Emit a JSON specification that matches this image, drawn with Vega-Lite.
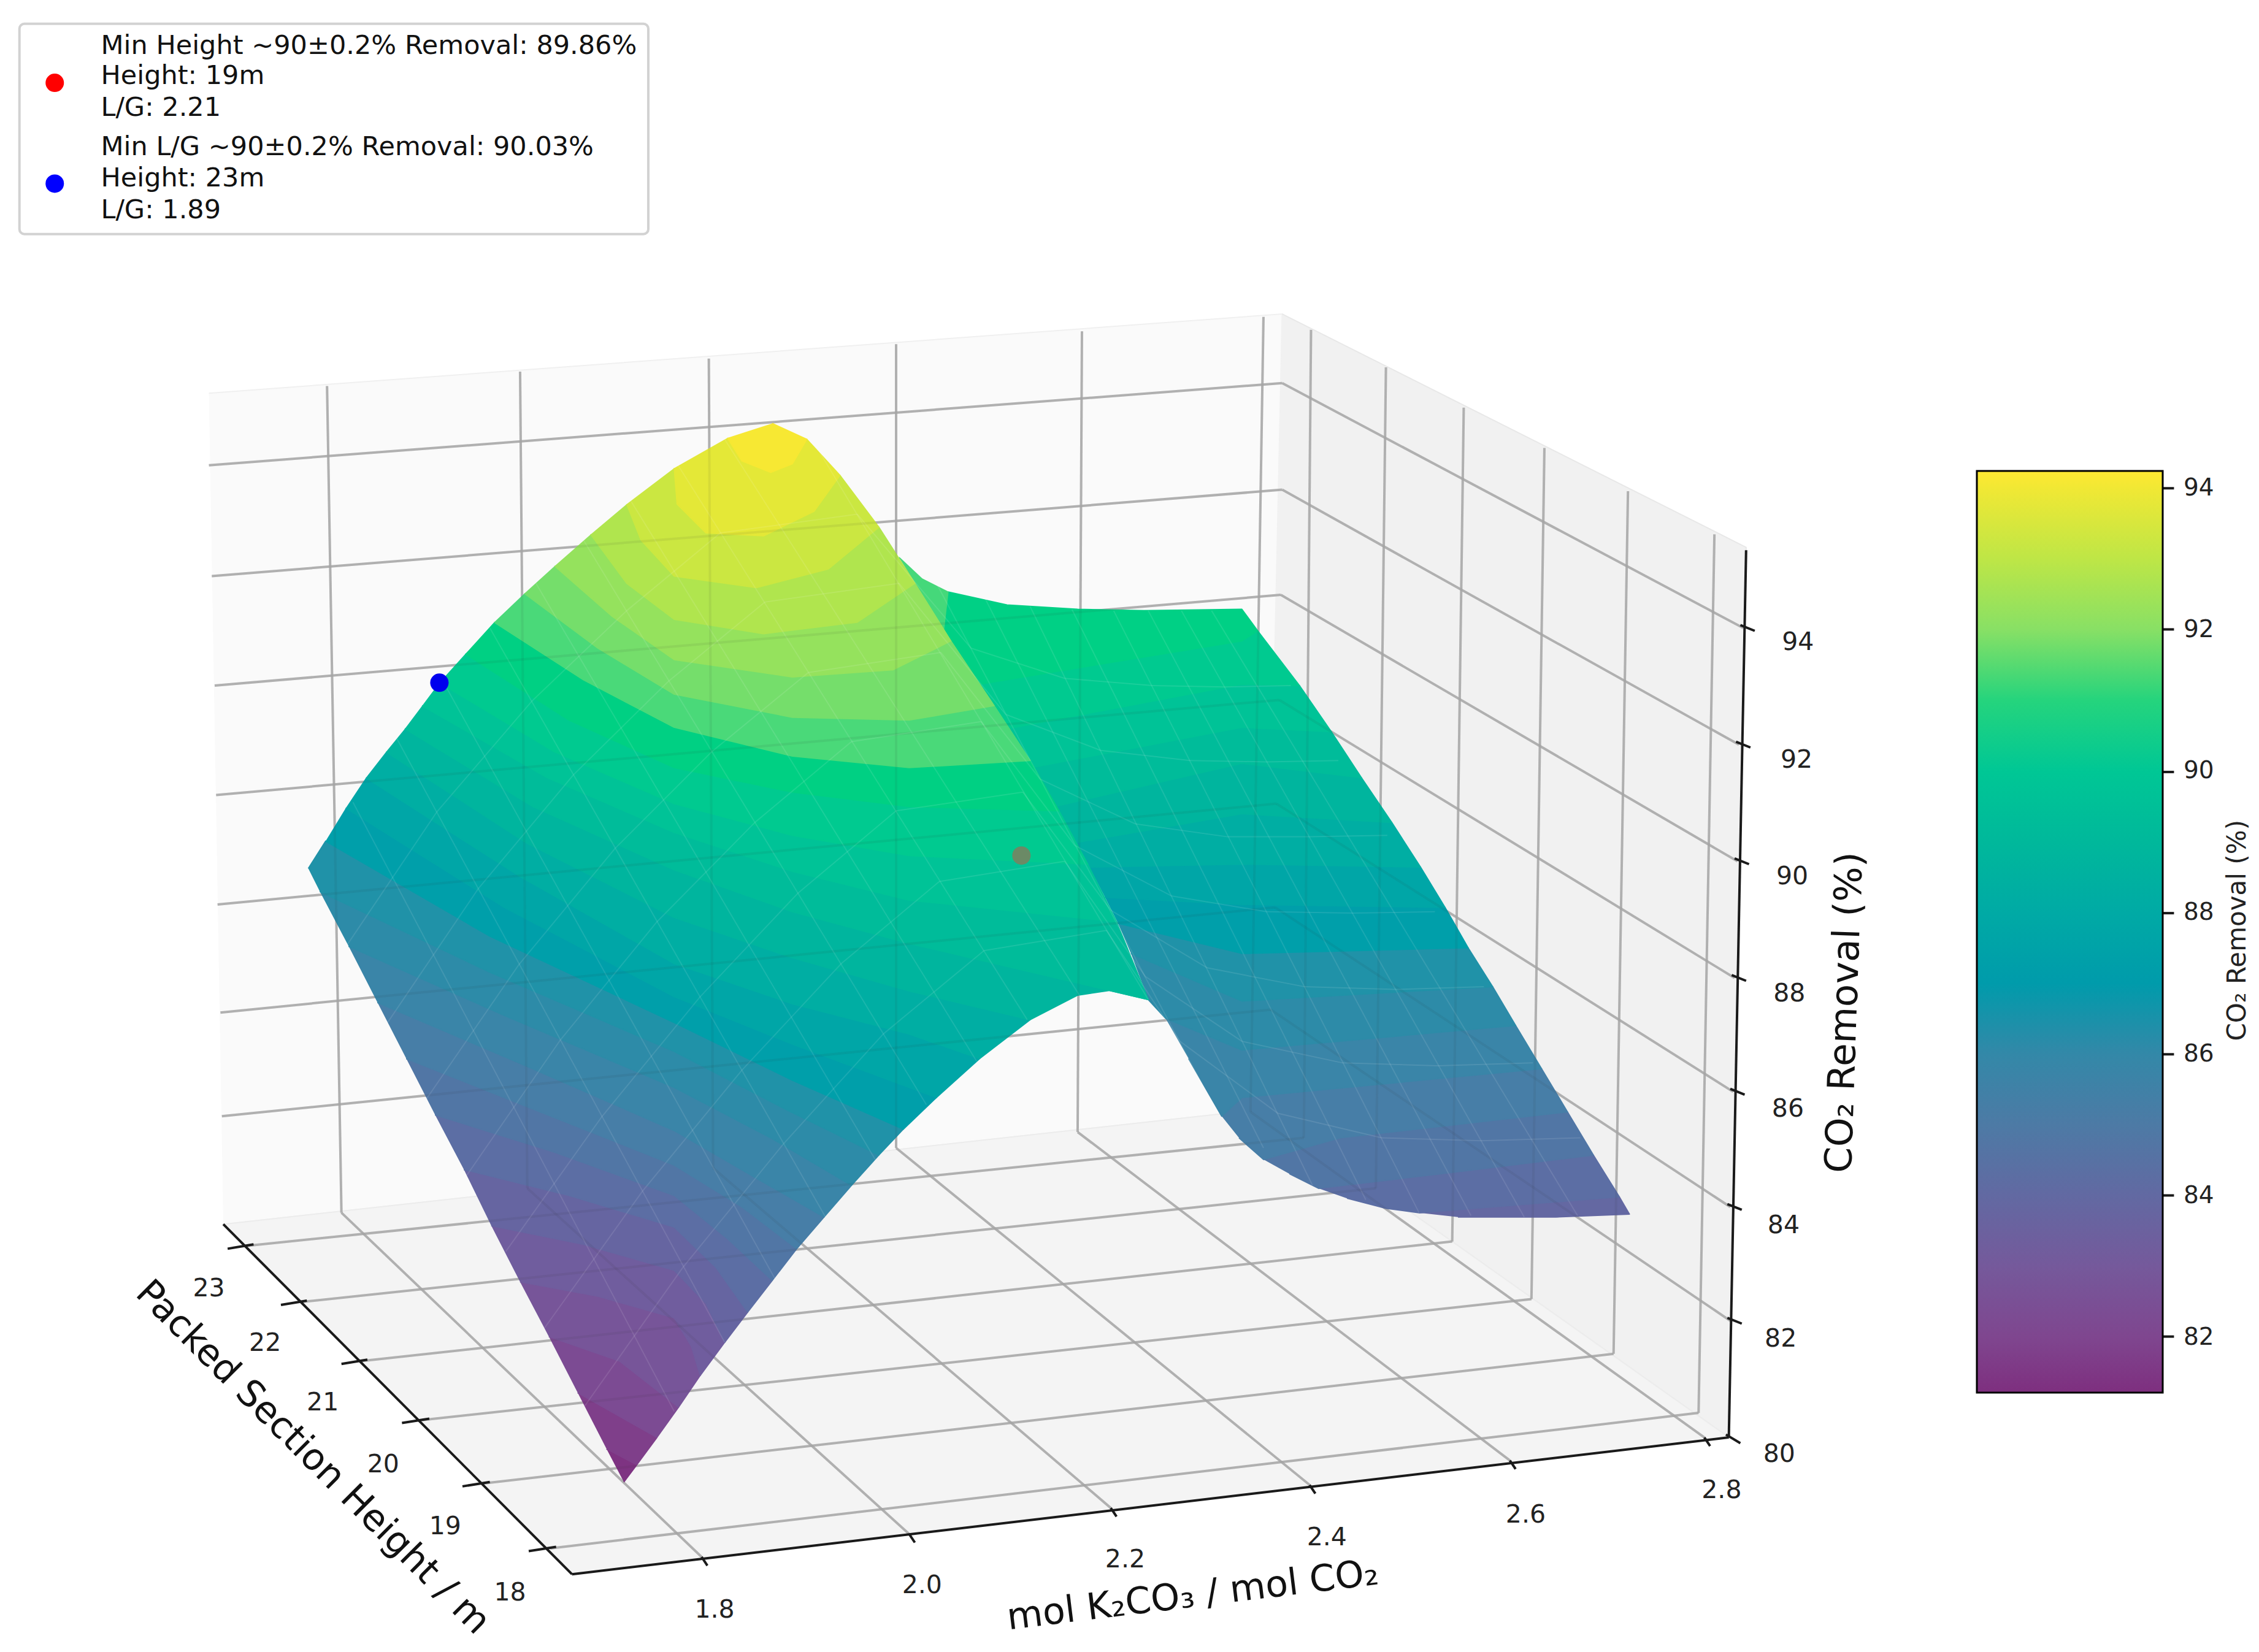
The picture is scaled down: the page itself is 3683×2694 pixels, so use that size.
{"$schema":"https://vega.github.io/schema/vega-lite/v6.json",
"width":3683,"height":2694,"padding":0,
"autosize":{"type":"fit","contains":"padding"},
"background":"white",
"config":{"view":{"stroke":null}},
"resolve":{"scale":{"fill":"independent"},"legend":{"fill":"independent"}},
"datasets":{
"grid":[
{"sx":227,"sy":268,"ex":237,"ey":842},{"sx":361,"sy":258,"ex":366,"ey":825},{"sx":492,"sy":249,"ex":495,"ey":811},{"sx":622,"sy":239,"ex":622,"ey":797},{"sx":751,"sy":230,"ex":748,"ey":786},{"sx":877,"sy":220,"ex":868,"ey":772},
{"sx":145,"sy":323,"ex":890,"ey":266},{"sx":147,"sy":400,"ex":890,"ey":340},{"sx":149,"sy":476,"ex":889,"ey":413},{"sx":150,"sy":552,"ex":888,"ey":486},{"sx":151,"sy":628,"ex":886,"ey":558},{"sx":153,"sy":703,"ex":885,"ey":630},{"sx":154,"sy":775,"ex":882,"ey":701},
{"sx":910,"sy":229,"ex":905,"ey":790},{"sx":962,"sy":255,"ex":955,"ey":825},{"sx":1016,"sy":283,"ex":1008,"ey":862},{"sx":1072,"sy":311,"ex":1063,"ey":902},{"sx":1130,"sy":341,"ex":1120,"ey":940},{"sx":1190,"sy":371,"ex":1179,"ey":981},
{"sx":890,"sy":266,"ex":1210,"ey":436},{"sx":890,"sy":340,"ex":1207,"ey":517},{"sx":889,"sy":413,"ex":1206,"ey":598},{"sx":888,"sy":486,"ex":1204,"ey":679},{"sx":886,"sy":558,"ex":1203,"ey":758},{"sx":885,"sy":630,"ex":1201,"ey":838},{"sx":882,"sy":701,"ex":1201,"ey":917},
{"sx":237,"sy":842,"ex":487,"ey":1081},{"sx":366,"sy":825,"ex":631,"ey":1065},{"sx":495,"sy":811,"ex":771,"ey":1047},{"sx":622,"sy":797,"ex":909,"ey":1031},{"sx":748,"sy":786,"ex":1048,"ey":1014},{"sx":868,"sy":772,"ex":1183,"ey":998},
{"sx":171,"sy":865,"ex":905,"ey":790},{"sx":209,"sy":904,"ex":955,"ey":825},{"sx":251,"sy":945,"ex":1008,"ey":862},{"sx":293,"sy":986,"ex":1063,"ey":902},{"sx":335,"sy":1030,"ex":1120,"ey":940},{"sx":382,"sy":1075,"ex":1179,"ey":981}],
"axes":[
{"sx":155,"sy":850,"ex":397,"ey":1093},{"sx":397,"sy":1093,"ex":1200,"ey":998},{"sx":1212,"sy":382,"ex":1200,"ey":998},
{"sx":158,"sy":867,"ex":176,"ey":864},{"sx":195,"sy":906,"ex":213,"ey":903},{"sx":237,"sy":947,"ex":255,"ey":944},{"sx":279,"sy":988,"ex":298,"ey":985},{"sx":321,"sy":1032,"ex":340,"ey":1029},{"sx":367,"sy":1077,"ex":386,"ey":1074},
{"sx":487,"sy":1081,"ex":491,"ey":1087},{"sx":631,"sy":1065,"ex":635,"ey":1071},{"sx":771,"sy":1047,"ex":775,"ey":1053},{"sx":909,"sy":1031,"ex":913,"ey":1037},{"sx":1048,"sy":1014,"ex":1052,"ey":1020},{"sx":1183,"sy":998,"ex":1187,"ey":1004},
{"sx":1198,"sy":996,"ex":1208,"ey":1002},{"sx":1199,"sy":915,"ex":1209,"ey":919},{"sx":1199,"sy":836,"ex":1209,"ey":840},{"sx":1201,"sy":756,"ex":1211,"ey":760},{"sx":1202,"sy":677,"ex":1212,"ey":681},{"sx":1204,"sy":596,"ex":1214,"ey":600},{"sx":1205,"sy":515,"ex":1215,"ey":519},{"sx":1208,"sy":434,"ex":1218,"ey":438},
{"sx":1501,"sy":339,"ex":1509,"ey":339},{"sx":1501,"sy":437,"ex":1509,"ey":437},{"sx":1501,"sy":536,"ex":1509,"ey":536},{"sx":1501,"sy":634,"ex":1509,"ey":634},{"sx":1501,"sy":732,"ex":1509,"ey":732},{"sx":1501,"sy":830,"ex":1509,"ey":830},{"sx":1501,"sy":928,"ex":1509,"ey":928}],
"mesh":[
{"sx":503,"sy":932,"ex":275,"ey":512},{"sx":573,"sy":845,"ex":340,"ey":436},{"sx":643,"sy":767,"ex":405,"ey":375},{"sx":713,"sy":708,"ex":470,"ey":322},{"sx":797,"sy":694,"ex":566,"ey":309},{"sx":843,"sy":769,"ex":650,"ey":405},{"sx":911,"sy":823,"ex":715,"ey":421},{"sx":985,"sy":842,"ex":773,"ey":424},{"sx":1058,"sy":845,"ex":820,"ey":424},
{"sx":468,"sy":980,"ex":245,"ey":557},{"sx":538,"sy":888,"ex":308,"ey":474},{"sx":608,"sy":806,"ex":372,"ey":405},{"sx":678,"sy":737,"ex":438,"ey":348},{"sx":755,"sy":700,"ex":503,"ey":305},{"sx":877,"sy":797,"ex":683,"ey":414},{"sx":948,"sy":833,"ex":744,"ey":423},{"sx":1021,"sy":844,"ex":797,"ey":424},{"sx":1095,"sy":844,"ex":841,"ey":424},
{"sx":406,"sy":976,"ex":474,"ey":880},{"sx":474,"sy":880,"ex":544,"ey":794},{"sx":544,"sy":794,"ex":613,"ey":718},{"sx":613,"sy":718,"ex":683,"ey":660},{"sx":683,"sy":660,"ex":768,"ey":646},{"sx":768,"sy":646,"ex":819,"ey":723},{"sx":819,"sy":723,"ex":887,"ey":773},{"sx":887,"sy":773,"ex":959,"ey":790},{"sx":959,"sy":790,"ex":1028,"ey":792},{"sx":1028,"sy":792,"ex":1097,"ey":790},
{"sx":378,"sy":922,"ex":446,"ey":827},{"sx":446,"sy":827,"ex":515,"ey":743},{"sx":515,"sy":743,"ex":584,"ey":669},{"sx":584,"sy":669,"ex":652,"ey":612},{"sx":652,"sy":612,"ex":739,"ey":598},{"sx":739,"sy":598,"ex":795,"ey":678},{"sx":795,"sy":678,"ex":862,"ey":723},{"sx":862,"sy":723,"ex":932,"ey":738},{"sx":932,"sy":738,"ex":998,"ey":740},{"sx":998,"sy":740,"ex":1064,"ey":738},
{"sx":351,"sy":869,"ex":418,"ey":775},{"sx":418,"sy":775,"ex":486,"ey":692},{"sx":486,"sy":692,"ex":554,"ey":620},{"sx":554,"sy":620,"ex":622,"ey":563},{"sx":622,"sy":563,"ex":710,"ey":550},{"sx":710,"sy":550,"ex":771,"ey":632},{"sx":771,"sy":632,"ex":838,"ey":672},{"sx":838,"sy":672,"ex":905,"ey":685},{"sx":905,"sy":685,"ex":969,"ey":687},{"sx":969,"sy":687,"ex":1030,"ey":685},
{"sx":324,"sy":816,"ex":389,"ey":722},{"sx":389,"sy":722,"ex":456,"ey":640},{"sx":456,"sy":640,"ex":524,"ey":571},{"sx":524,"sy":571,"ex":591,"ey":515},{"sx":591,"sy":515,"ex":681,"ey":501},{"sx":681,"sy":501,"ex":746,"ey":587},{"sx":746,"sy":587,"ex":813,"ey":622},{"sx":813,"sy":622,"ex":879,"ey":633},{"sx":879,"sy":633,"ex":939,"ey":634},{"sx":939,"sy":634,"ex":996,"ey":633},
{"sx":296,"sy":763,"ex":360,"ey":670},{"sx":360,"sy":670,"ex":427,"ey":589},{"sx":427,"sy":589,"ex":494,"ey":522},{"sx":494,"sy":522,"ex":561,"ey":467},{"sx":561,"sy":467,"ex":653,"ey":453},{"sx":653,"sy":453,"ex":722,"ey":541},{"sx":722,"sy":541,"ex":788,"ey":572},{"sx":788,"sy":572,"ex":852,"ey":581},{"sx":852,"sy":581,"ex":909,"ey":581},{"sx":909,"sy":581,"ex":963,"ey":580},
{"sx":269,"sy":710,"ex":332,"ey":617},{"sx":332,"sy":617,"ex":398,"ey":538},{"sx":398,"sy":538,"ex":464,"ey":473},{"sx":464,"sy":473,"ex":531,"ey":418},{"sx":531,"sy":418,"ex":624,"ey":405},{"sx":624,"sy":405,"ex":698,"ey":496},{"sx":698,"sy":496,"ex":764,"ey":521},{"sx":764,"sy":521,"ex":826,"ey":528},{"sx":826,"sy":528,"ex":879,"ey":529},{"sx":879,"sy":529,"ex":929,"ey":528},
{"sx":241,"sy":656,"ex":303,"ey":564},{"sx":303,"sy":564,"ex":369,"ey":487},{"sx":369,"sy":487,"ex":435,"ey":424},{"sx":435,"sy":424,"ex":500,"ey":370},{"sx":500,"sy":370,"ex":595,"ey":357},{"sx":595,"sy":357,"ex":674,"ey":450},{"sx":674,"sy":450,"ex":739,"ey":471},{"sx":739,"sy":471,"ex":800,"ey":476},{"sx":800,"sy":476,"ex":850,"ey":477},{"sx":850,"sy":477,"ex":896,"ey":476}],
"surface":[
{"p":"b01","i":0,"z":83.9,"sx":985,"sy":842},{"p":"b01","i":1,"z":83.9,"sx":1124,"sy":831},{"p":"b01","i":2,"z":83.9,"sx":1131,"sy":843},{"p":"b01","i":3,"z":83.9,"sx":1080,"sy":845},{"p":"b01","i":4,"z":83.9,"sx":1012,"sy":845},
{"p":"b02","i":0,"z":84.25,"sx":915,"sy":825},{"p":"b02","i":1,"z":84.25,"sx":1000,"sy":815},{"p":"b02","i":2,"z":84.25,"sx":1106,"sy":802},{"p":"b02","i":3,"z":84.25,"sx":1124,"sy":831},{"p":"b02","i":4,"z":84.25,"sx":985,"sy":842},{"p":"b02","i":5,"z":84.25,"sx":962,"sy":839},{"p":"b02","i":6,"z":84.25,"sx":935,"sy":832},
{"p":"b03","i":0,"z":84.75,"sx":877,"sy":805},{"p":"b03","i":1,"z":84.75,"sx":930,"sy":790},{"p":"b03","i":2,"z":84.75,"sx":1088,"sy":772},{"p":"b03","i":3,"z":84.75,"sx":1106,"sy":802},{"p":"b03","i":4,"z":84.75,"sx":1000,"sy":815},{"p":"b03","i":5,"z":84.75,"sx":915,"sy":825},{"p":"b03","i":6,"z":84.75,"sx":895,"sy":815},
{"p":"b04","i":0,"z":85.25,"sx":848,"sy":775},{"p":"b04","i":1,"z":85.25,"sx":862,"sy":762},{"p":"b04","i":2,"z":85.25,"sx":1070,"sy":742},{"p":"b04","i":3,"z":85.25,"sx":1088,"sy":772},{"p":"b04","i":4,"z":85.25,"sx":930,"sy":790},{"p":"b04","i":5,"z":85.25,"sx":877,"sy":805},{"p":"b04","i":6,"z":85.25,"sx":860,"sy":790},
{"p":"b05","i":0,"z":85.75,"sx":809,"sy":707},{"p":"b05","i":1,"z":85.75,"sx":862,"sy":729},{"p":"b05","i":2,"z":85.75,"sx":1052,"sy":712},{"p":"b05","i":3,"z":85.75,"sx":1070,"sy":742},{"p":"b05","i":4,"z":85.75,"sx":862,"sy":762},{"p":"b05","i":5,"z":85.75,"sx":848,"sy":775},{"p":"b05","i":6,"z":85.75,"sx":825,"sy":735},
{"p":"b06","i":0,"z":86.25,"sx":785,"sy":662},{"p":"b06","i":1,"z":86.25,"sx":862,"sy":695},{"p":"b06","i":2,"z":86.25,"sx":1036,"sy":685},{"p":"b06","i":3,"z":86.25,"sx":1052,"sy":712},{"p":"b06","i":4,"z":86.25,"sx":862,"sy":729},{"p":"b06","i":5,"z":86.25,"sx":809,"sy":707},{"p":"b06","i":6,"z":86.25,"sx":797,"sy":694},
{"p":"b07","i":0,"z":86.75,"sx":776,"sy":641},{"p":"b07","i":1,"z":86.75,"sx":862,"sy":662},{"p":"b07","i":2,"z":86.75,"sx":1019,"sy":658},{"p":"b07","i":3,"z":86.75,"sx":1036,"sy":685},{"p":"b07","i":4,"z":86.75,"sx":862,"sy":695},{"p":"b07","i":5,"z":86.75,"sx":785,"sy":662},
{"p":"b08","i":0,"z":87.25,"sx":767,"sy":623},{"p":"b08","i":1,"z":87.25,"sx":862,"sy":628},{"p":"b08","i":2,"z":87.25,"sx":1003,"sy":630},{"p":"b08","i":3,"z":87.25,"sx":1019,"sy":658},{"p":"b08","i":4,"z":87.25,"sx":862,"sy":662},{"p":"b08","i":5,"z":87.25,"sx":776,"sy":641},
{"p":"b09","i":0,"z":87.75,"sx":756,"sy":602},{"p":"b09","i":1,"z":87.75,"sx":862,"sy":600},{"p":"b09","i":2,"z":87.75,"sx":986,"sy":602},{"p":"b09","i":3,"z":87.75,"sx":1003,"sy":630},{"p":"b09","i":4,"z":87.75,"sx":862,"sy":628},{"p":"b09","i":5,"z":87.75,"sx":767,"sy":623},
{"p":"b10","i":0,"z":88.25,"sx":747,"sy":585},{"p":"b10","i":1,"z":88.25,"sx":862,"sy":565},{"p":"b10","i":2,"z":88.25,"sx":966,"sy":571},{"p":"b10","i":3,"z":88.25,"sx":986,"sy":602},{"p":"b10","i":4,"z":88.25,"sx":862,"sy":600},{"p":"b10","i":5,"z":88.25,"sx":756,"sy":602},
{"p":"b11","i":0,"z":88.75,"sx":732,"sy":560},{"p":"b11","i":1,"z":88.75,"sx":862,"sy":530},{"p":"b11","i":2,"z":88.75,"sx":945,"sy":540},{"p":"b11","i":3,"z":88.75,"sx":966,"sy":571},{"p":"b11","i":4,"z":88.75,"sx":862,"sy":565},{"p":"b11","i":5,"z":88.75,"sx":747,"sy":585},
{"p":"b12","i":0,"z":89.25,"sx":716,"sy":533},{"p":"b12","i":1,"z":89.25,"sx":862,"sy":505},{"p":"b12","i":2,"z":89.25,"sx":924,"sy":508},{"p":"b12","i":3,"z":89.25,"sx":945,"sy":540},{"p":"b12","i":4,"z":89.25,"sx":862,"sy":530},{"p":"b12","i":5,"z":89.25,"sx":732,"sy":560},
{"p":"b13","i":0,"z":89.75,"sx":699,"sy":506},{"p":"b13","i":1,"z":89.75,"sx":862,"sy":475},{"p":"b13","i":2,"z":89.75,"sx":902,"sy":476},{"p":"b13","i":3,"z":89.75,"sx":924,"sy":508},{"p":"b13","i":4,"z":89.75,"sx":862,"sy":505},{"p":"b13","i":5,"z":89.75,"sx":716,"sy":533},
{"p":"b14","i":0,"z":90.25,"sx":680,"sy":475},{"p":"b14","i":1,"z":90.25,"sx":862,"sy":445},{"p":"b14","i":2,"z":90.25,"sx":873,"sy":438},{"p":"b14","i":3,"z":90.25,"sx":902,"sy":476},{"p":"b14","i":4,"z":90.25,"sx":862,"sy":475},{"p":"b14","i":5,"z":90.25,"sx":699,"sy":506},
{"p":"b15","i":0,"z":90.7,"sx":658,"sy":411},{"p":"b15","i":1,"z":90.7,"sx":699,"sy":420},{"p":"b15","i":2,"z":90.7,"sx":748,"sy":423},{"p":"b15","i":3,"z":90.7,"sx":794,"sy":424},{"p":"b15","i":4,"z":90.7,"sx":862,"sy":423},{"p":"b15","i":5,"z":90.7,"sx":873,"sy":438},{"p":"b15","i":6,"z":90.7,"sx":862,"sy":445},{"p":"b15","i":7,"z":90.7,"sx":680,"sy":475},{"p":"b15","i":8,"z":90.7,"sx":655,"sy":437},
{"p":"b16","i":0,"z":91.2,"sx":624,"sy":387},{"p":"b16","i":1,"z":91.2,"sx":640,"sy":402},{"p":"b16","i":2,"z":91.2,"sx":658,"sy":411},{"p":"b16","i":3,"z":91.2,"sx":655,"sy":437},
{"p":"a00","i":0,"z":81.35,"sx":433,"sy":1029},{"p":"a00","i":1,"z":81.35,"sx":442,"sy":1017},{"p":"a00","i":2,"z":81.35,"sx":421,"sy":1006},
{"p":"a01","i":0,"z":81.75,"sx":421,"sy":1006},{"p":"a01","i":1,"z":81.75,"sx":442,"sy":1017},{"p":"a01","i":2,"z":81.75,"sx":456,"sy":998},{"p":"a01","i":3,"z":81.75,"sx":401,"sy":967},
{"p":"a02","i":0,"z":82.25,"sx":401,"sy":967},{"p":"a02","i":1,"z":82.25,"sx":456,"sy":998},{"p":"a02","i":2,"z":82.25,"sx":471,"sy":977},{"p":"a02","i":3,"z":82.25,"sx":430,"sy":945},{"p":"a02","i":4,"z":82.25,"sx":381,"sy":928},
{"p":"a03","i":0,"z":82.75,"sx":381,"sy":928},{"p":"a03","i":1,"z":82.75,"sx":430,"sy":945},{"p":"a03","i":2,"z":82.75,"sx":471,"sy":977},{"p":"a03","i":3,"z":82.75,"sx":486,"sy":955},{"p":"a03","i":4,"z":82.75,"sx":480,"sy":935},{"p":"a03","i":5,"z":82.75,"sx":468,"sy":915},{"p":"a03","i":6,"z":82.75,"sx":415,"sy":900},{"p":"a03","i":7,"z":82.75,"sx":361,"sy":890},
{"p":"a04","i":0,"z":83.25,"sx":361,"sy":890},{"p":"a04","i":1,"z":83.25,"sx":415,"sy":900},{"p":"a04","i":2,"z":83.25,"sx":468,"sy":915},{"p":"a04","i":3,"z":83.25,"sx":480,"sy":935},{"p":"a04","i":4,"z":83.25,"sx":486,"sy":955},{"p":"a04","i":5,"z":83.25,"sx":503,"sy":932},{"p":"a04","i":6,"z":83.25,"sx":490,"sy":905},{"p":"a04","i":7,"z":83.25,"sx":468,"sy":882},{"p":"a04","i":8,"z":83.25,"sx":405,"sy":864},{"p":"a04","i":9,"z":83.25,"sx":341,"sy":851},
{"p":"a05","i":0,"z":83.75,"sx":341,"sy":851},{"p":"a05","i":1,"z":83.75,"sx":405,"sy":864},{"p":"a05","i":2,"z":83.75,"sx":468,"sy":882},{"p":"a05","i":3,"z":83.75,"sx":490,"sy":905},{"p":"a05","i":4,"z":83.75,"sx":503,"sy":932},{"p":"a05","i":5,"z":83.75,"sx":519,"sy":911},{"p":"a05","i":6,"z":83.75,"sx":497,"sy":880},{"p":"a05","i":7,"z":83.75,"sx":468,"sy":852},{"p":"a05","i":8,"z":83.75,"sx":395,"sy":830},{"p":"a05","i":9,"z":83.75,"sx":322,"sy":812},
{"p":"a06","i":0,"z":84.25,"sx":322,"sy":812},{"p":"a06","i":1,"z":84.25,"sx":395,"sy":830},{"p":"a06","i":2,"z":84.25,"sx":468,"sy":852},{"p":"a06","i":3,"z":84.25,"sx":497,"sy":880},{"p":"a06","i":4,"z":84.25,"sx":519,"sy":911},{"p":"a06","i":5,"z":84.25,"sx":536,"sy":889},{"p":"a06","i":6,"z":84.25,"sx":505,"sy":860},{"p":"a06","i":7,"z":84.25,"sx":468,"sy":830},{"p":"a06","i":8,"z":84.25,"sx":385,"sy":800},{"p":"a06","i":9,"z":84.25,"sx":302,"sy":774},
{"p":"a07","i":0,"z":84.75,"sx":302,"sy":774},{"p":"a07","i":1,"z":84.75,"sx":385,"sy":800},{"p":"a07","i":2,"z":84.75,"sx":468,"sy":830},{"p":"a07","i":3,"z":84.75,"sx":505,"sy":860},{"p":"a07","i":4,"z":84.75,"sx":536,"sy":889},{"p":"a07","i":5,"z":84.75,"sx":553,"sy":867},{"p":"a07","i":6,"z":84.75,"sx":515,"sy":838},{"p":"a07","i":7,"z":84.75,"sx":468,"sy":809},{"p":"a07","i":8,"z":84.75,"sx":375,"sy":772},{"p":"a07","i":9,"z":84.75,"sx":282,"sy":735},
{"p":"a08","i":0,"z":85.25,"sx":282,"sy":735},{"p":"a08","i":1,"z":85.25,"sx":375,"sy":772},{"p":"a08","i":2,"z":85.25,"sx":468,"sy":809},{"p":"a08","i":3,"z":85.25,"sx":515,"sy":838},{"p":"a08","i":4,"z":85.25,"sx":553,"sy":867},{"p":"a08","i":5,"z":85.25,"sx":572,"sy":845},{"p":"a08","i":6,"z":85.25,"sx":525,"sy":818},{"p":"a08","i":7,"z":85.25,"sx":468,"sy":785},{"p":"a08","i":8,"z":85.25,"sx":365,"sy":740},{"p":"a08","i":9,"z":85.25,"sx":262,"sy":696},
{"p":"a09","i":0,"z":85.75,"sx":262,"sy":696},{"p":"a09","i":1,"z":85.75,"sx":365,"sy":740},{"p":"a09","i":2,"z":85.75,"sx":468,"sy":785},{"p":"a09","i":3,"z":85.75,"sx":525,"sy":818},{"p":"a09","i":4,"z":85.75,"sx":572,"sy":845},{"p":"a09","i":5,"z":85.75,"sx":591,"sy":823},{"p":"a09","i":6,"z":85.75,"sx":535,"sy":790},{"p":"a09","i":7,"z":85.75,"sx":468,"sy":755},{"p":"a09","i":8,"z":85.75,"sx":350,"sy":705},{"p":"a09","i":9,"z":85.75,"sx":242,"sy":657},
{"p":"a10","i":0,"z":86.25,"sx":242,"sy":657},{"p":"a10","i":1,"z":86.25,"sx":350,"sy":705},{"p":"a10","i":2,"z":86.25,"sx":468,"sy":755},{"p":"a10","i":3,"z":86.25,"sx":535,"sy":790},{"p":"a10","i":4,"z":86.25,"sx":591,"sy":823},{"p":"a10","i":5,"z":86.25,"sx":610,"sy":802},{"p":"a10","i":6,"z":86.25,"sx":545,"sy":770},{"p":"a10","i":7,"z":86.25,"sx":468,"sy":730},{"p":"a10","i":8,"z":86.25,"sx":340,"sy":675},{"p":"a10","i":9,"z":86.25,"sx":222,"sy":619},
{"p":"a11","i":0,"z":86.75,"sx":222,"sy":619},{"p":"a11","i":1,"z":86.75,"sx":340,"sy":675},{"p":"a11","i":2,"z":86.75,"sx":468,"sy":730},{"p":"a11","i":3,"z":86.75,"sx":545,"sy":770},{"p":"a11","i":4,"z":86.75,"sx":610,"sy":802},{"p":"a11","i":5,"z":86.75,"sx":627,"sy":784},{"p":"a11","i":6,"z":86.75,"sx":550,"sy":750},{"p":"a11","i":7,"z":86.75,"sx":468,"sy":710},{"p":"a11","i":8,"z":86.75,"sx":340,"sy":650},{"p":"a11","i":9,"z":86.75,"sx":226,"sy":584},{"p":"a11","i":10,"z":86.75,"sx":214,"sy":603},
{"p":"a12","i":0,"z":87.25,"sx":226,"sy":584},{"p":"a12","i":1,"z":87.25,"sx":340,"sy":650},{"p":"a12","i":2,"z":87.25,"sx":468,"sy":710},{"p":"a12","i":3,"z":87.25,"sx":550,"sy":750},{"p":"a12","i":4,"z":87.25,"sx":627,"sy":784},{"p":"a12","i":5,"z":87.25,"sx":650,"sy":762},{"p":"a12","i":6,"z":87.25,"sx":631,"sy":755},{"p":"a12","i":7,"z":87.25,"sx":550,"sy":725},{"p":"a12","i":8,"z":87.25,"sx":468,"sy":692},{"p":"a12","i":9,"z":87.25,"sx":350,"sy":630},{"p":"a12","i":10,"z":87.25,"sx":240,"sy":561},
{"p":"a13","i":0,"z":87.75,"sx":240,"sy":561},{"p":"a13","i":1,"z":87.75,"sx":350,"sy":630},{"p":"a13","i":2,"z":87.75,"sx":468,"sy":692},{"p":"a13","i":3,"z":87.75,"sx":550,"sy":725},{"p":"a13","i":4,"z":87.75,"sx":631,"sy":755},{"p":"a13","i":5,"z":87.75,"sx":650,"sy":762},{"p":"a13","i":6,"z":87.75,"sx":680,"sy":735},{"p":"a13","i":7,"z":87.75,"sx":631,"sy":718},{"p":"a13","i":8,"z":87.75,"sx":550,"sy":697},{"p":"a13","i":9,"z":87.75,"sx":468,"sy":669},{"p":"a13","i":10,"z":87.75,"sx":360,"sy":608},{"p":"a13","i":11,"z":87.75,"sx":254,"sy":540},
{"p":"a14","i":0,"z":88.25,"sx":254,"sy":540},{"p":"a14","i":1,"z":88.25,"sx":360,"sy":608},{"p":"a14","i":2,"z":88.25,"sx":468,"sy":669},{"p":"a14","i":3,"z":88.25,"sx":550,"sy":697},{"p":"a14","i":4,"z":88.25,"sx":631,"sy":718},{"p":"a14","i":5,"z":88.25,"sx":680,"sy":735},{"p":"a14","i":6,"z":88.25,"sx":715,"sy":708},{"p":"a14","i":7,"z":88.25,"sx":631,"sy":688},{"p":"a14","i":8,"z":88.25,"sx":550,"sy":665},{"p":"a14","i":9,"z":88.25,"sx":468,"sy":637},{"p":"a14","i":10,"z":88.25,"sx":365,"sy":585},{"p":"a14","i":11,"z":88.25,"sx":268,"sy":522},
{"p":"a15","i":0,"z":88.75,"sx":268,"sy":522},{"p":"a15","i":1,"z":88.75,"sx":365,"sy":585},{"p":"a15","i":2,"z":88.75,"sx":468,"sy":637},{"p":"a15","i":3,"z":88.75,"sx":550,"sy":665},{"p":"a15","i":4,"z":88.75,"sx":631,"sy":688},{"p":"a15","i":5,"z":88.75,"sx":715,"sy":708},{"p":"a15","i":6,"z":88.75,"sx":748,"sy":691},{"p":"a15","i":7,"z":88.75,"sx":775,"sy":687},{"p":"a15","i":8,"z":88.75,"sx":797,"sy":694},{"p":"a15","i":9,"z":88.75,"sx":631,"sy":655},{"p":"a15","i":10,"z":88.75,"sx":550,"sy":633},{"p":"a15","i":11,"z":88.75,"sx":468,"sy":604},{"p":"a15","i":12,"z":88.75,"sx":370,"sy":560},{"p":"a15","i":13,"z":88.75,"sx":281,"sy":506},
{"p":"a16","i":0,"z":89.25,"sx":281,"sy":506},{"p":"a16","i":1,"z":89.25,"sx":370,"sy":560},{"p":"a16","i":2,"z":89.25,"sx":468,"sy":604},{"p":"a16","i":3,"z":89.25,"sx":550,"sy":633},{"p":"a16","i":4,"z":89.25,"sx":631,"sy":655},{"p":"a16","i":5,"z":89.25,"sx":797,"sy":694},{"p":"a16","i":6,"z":89.25,"sx":775,"sy":640},{"p":"a16","i":7,"z":89.25,"sx":631,"sy":625},{"p":"a16","i":8,"z":89.25,"sx":550,"sy":605},{"p":"a16","i":9,"z":89.25,"sx":468,"sy":578},{"p":"a16","i":10,"z":89.25,"sx":380,"sy":540},{"p":"a16","i":11,"z":89.25,"sx":293,"sy":490},
{"p":"a17","i":0,"z":89.75,"sx":293,"sy":490},{"p":"a17","i":1,"z":89.75,"sx":380,"sy":540},{"p":"a17","i":2,"z":89.75,"sx":468,"sy":578},{"p":"a17","i":3,"z":89.75,"sx":550,"sy":605},{"p":"a17","i":4,"z":89.75,"sx":631,"sy":625},{"p":"a17","i":5,"z":89.75,"sx":775,"sy":640},{"p":"a17","i":6,"z":89.75,"sx":755,"sy":600},{"p":"a17","i":7,"z":89.75,"sx":631,"sy":594},{"p":"a17","i":8,"z":89.75,"sx":550,"sy":580},{"p":"a17","i":9,"z":89.75,"sx":468,"sy":558},{"p":"a17","i":10,"z":89.75,"sx":385,"sy":522},{"p":"a17","i":11,"z":89.75,"sx":305,"sy":474},
{"p":"a18","i":0,"z":90.25,"sx":305,"sy":474},{"p":"a18","i":1,"z":90.25,"sx":385,"sy":522},{"p":"a18","i":2,"z":90.25,"sx":468,"sy":558},{"p":"a18","i":3,"z":90.25,"sx":550,"sy":580},{"p":"a18","i":4,"z":90.25,"sx":631,"sy":594},{"p":"a18","i":5,"z":90.25,"sx":755,"sy":600},{"p":"a18","i":6,"z":90.25,"sx":735,"sy":563},{"p":"a18","i":7,"z":90.25,"sx":631,"sy":560},{"p":"a18","i":8,"z":90.25,"sx":550,"sy":550},{"p":"a18","i":9,"z":90.25,"sx":468,"sy":533},{"p":"a18","i":10,"z":90.25,"sx":395,"sy":500},{"p":"a18","i":11,"z":90.25,"sx":323,"sy":454},
{"p":"a19","i":0,"z":90.75,"sx":323,"sy":454},{"p":"a19","i":1,"z":90.75,"sx":395,"sy":500},{"p":"a19","i":2,"z":90.75,"sx":468,"sy":533},{"p":"a19","i":3,"z":90.75,"sx":550,"sy":550},{"p":"a19","i":4,"z":90.75,"sx":631,"sy":560},{"p":"a19","i":5,"z":90.75,"sx":735,"sy":563},{"p":"a19","i":6,"z":90.75,"sx":715,"sy":528},{"p":"a19","i":7,"z":90.75,"sx":631,"sy":533},{"p":"a19","i":8,"z":90.75,"sx":550,"sy":525},{"p":"a19","i":9,"z":90.75,"sx":468,"sy":505},{"p":"a19","i":10,"z":90.75,"sx":405,"sy":472},{"p":"a19","i":11,"z":90.75,"sx":343,"sy":432},
{"p":"a20","i":0,"z":91.25,"sx":343,"sy":432},{"p":"a20","i":1,"z":91.25,"sx":405,"sy":472},{"p":"a20","i":2,"z":91.25,"sx":468,"sy":505},{"p":"a20","i":3,"z":91.25,"sx":550,"sy":525},{"p":"a20","i":4,"z":91.25,"sx":631,"sy":533},{"p":"a20","i":5,"z":91.25,"sx":715,"sy":528},{"p":"a20","i":6,"z":91.25,"sx":690,"sy":490},{"p":"a20","i":7,"z":91.25,"sx":631,"sy":500},{"p":"a20","i":8,"z":91.25,"sx":550,"sy":498},{"p":"a20","i":9,"z":91.25,"sx":468,"sy":482},{"p":"a20","i":10,"z":91.25,"sx":415,"sy":450},{"p":"a20","i":11,"z":91.25,"sx":364,"sy":412},
{"p":"a21","i":0,"z":91.75,"sx":364,"sy":412},{"p":"a21","i":1,"z":91.75,"sx":415,"sy":450},{"p":"a21","i":2,"z":91.75,"sx":468,"sy":482},{"p":"a21","i":3,"z":91.75,"sx":550,"sy":498},{"p":"a21","i":4,"z":91.75,"sx":631,"sy":500},{"p":"a21","i":5,"z":91.75,"sx":690,"sy":490},{"p":"a21","i":6,"z":91.75,"sx":660,"sy":445},{"p":"a21","i":7,"z":91.75,"sx":620,"sy":465},{"p":"a21","i":8,"z":91.75,"sx":550,"sy":470},{"p":"a21","i":9,"z":91.75,"sx":468,"sy":458},{"p":"a21","i":10,"z":91.75,"sx":425,"sy":428},{"p":"a21","i":11,"z":91.75,"sx":385,"sy":393},
{"p":"a22","i":0,"z":92.25,"sx":385,"sy":393},{"p":"a22","i":1,"z":92.25,"sx":425,"sy":428},{"p":"a22","i":2,"z":92.25,"sx":468,"sy":458},{"p":"a22","i":3,"z":92.25,"sx":550,"sy":470},{"p":"a22","i":4,"z":92.25,"sx":620,"sy":465},{"p":"a22","i":5,"z":92.25,"sx":660,"sy":445},{"p":"a22","i":6,"z":92.25,"sx":635,"sy":405},{"p":"a22","i":7,"z":92.25,"sx":595,"sy":432},{"p":"a22","i":8,"z":92.25,"sx":530,"sy":440},{"p":"a22","i":9,"z":92.25,"sx":468,"sy":430},{"p":"a22","i":10,"z":92.25,"sx":435,"sy":405},{"p":"a22","i":11,"z":92.25,"sx":410,"sy":371},
{"p":"a23","i":0,"z":92.75,"sx":410,"sy":371},{"p":"a23","i":1,"z":92.75,"sx":435,"sy":405},{"p":"a23","i":2,"z":92.75,"sx":468,"sy":430},{"p":"a23","i":3,"z":92.75,"sx":530,"sy":440},{"p":"a23","i":4,"z":92.75,"sx":595,"sy":432},{"p":"a23","i":5,"z":92.75,"sx":635,"sy":405},{"p":"a23","i":6,"z":92.75,"sx":610,"sy":366},{"p":"a23","i":7,"z":92.75,"sx":575,"sy":395},{"p":"a23","i":8,"z":92.75,"sx":525,"sy":408},{"p":"a23","i":9,"z":92.75,"sx":468,"sy":400},{"p":"a23","i":10,"z":92.75,"sx":445,"sy":375},{"p":"a23","i":11,"z":92.75,"sx":435,"sy":350},
{"p":"a24","i":0,"z":93.25,"sx":435,"sy":350},{"p":"a24","i":1,"z":93.25,"sx":445,"sy":375},{"p":"a24","i":2,"z":93.25,"sx":468,"sy":400},{"p":"a24","i":3,"z":93.25,"sx":525,"sy":408},{"p":"a24","i":4,"z":93.25,"sx":575,"sy":395},{"p":"a24","i":5,"z":93.25,"sx":610,"sy":366},{"p":"a24","i":6,"z":93.25,"sx":583,"sy":330},{"p":"a24","i":7,"z":93.25,"sx":565,"sy":355},{"p":"a24","i":8,"z":93.25,"sx":530,"sy":372},{"p":"a24","i":9,"z":93.25,"sx":490,"sy":370},{"p":"a24","i":10,"z":93.25,"sx":470,"sy":350},{"p":"a24","i":11,"z":93.25,"sx":468,"sy":325},
{"p":"a25","i":0,"z":93.75,"sx":468,"sy":325},{"p":"a25","i":1,"z":93.75,"sx":470,"sy":350},{"p":"a25","i":2,"z":93.75,"sx":490,"sy":370},{"p":"a25","i":3,"z":93.75,"sx":530,"sy":372},{"p":"a25","i":4,"z":93.75,"sx":565,"sy":355},{"p":"a25","i":5,"z":93.75,"sx":583,"sy":330},{"p":"a25","i":6,"z":93.75,"sx":560,"sy":305},{"p":"a25","i":7,"z":93.75,"sx":550,"sy":322},{"p":"a25","i":8,"z":93.75,"sx":535,"sy":328},{"p":"a25","i":9,"z":93.75,"sx":515,"sy":320},{"p":"a25","i":10,"z":93.75,"sx":505,"sy":304},
{"p":"a26","i":0,"z":94.1,"sx":505,"sy":304},{"p":"a26","i":1,"z":94.1,"sx":515,"sy":320},{"p":"a26","i":2,"z":94.1,"sx":535,"sy":328},{"p":"a26","i":3,"z":94.1,"sx":550,"sy":322},{"p":"a26","i":4,"z":94.1,"sx":560,"sy":305},{"p":"a26","i":5,"z":94.1,"sx":536,"sy":294}],
"ticks":[
{"t":"23","sx":145,"sy":895},{"t":"22","sx":184,"sy":933},{"t":"21","sx":224,"sy":974},{"t":"20","sx":266,"sy":1017},{"t":"19","sx":309,"sy":1060},{"t":"18","sx":354,"sy":1106},
{"t":"1.8","sx":496,"sy":1118},{"t":"2.0","sx":640,"sy":1101},{"t":"2.2","sx":781,"sy":1083},{"t":"2.4","sx":921,"sy":1068},{"t":"2.6","sx":1059,"sy":1052},{"t":"2.8","sx":1195,"sy":1035},
{"t":"80","sx":1235,"sy":1010},{"t":"82","sx":1236,"sy":930},{"t":"84","sx":1238,"sy":851},{"t":"86","sx":1241,"sy":770},{"t":"88","sx":1242,"sy":690},{"t":"90","sx":1244,"sy":609},{"t":"92","sx":1247,"sy":528},{"t":"94","sx":1248,"sy":446}],
"legendLines":[
{"t":"Min Height ~90±0.2% Removal: 89.86%","sx":70,"sy":32},{"t":"Height: 19m","sx":70,"sy":53},{"t":"L/G: 2.21","sx":70,"sy":75},
{"t":"Min L/G ~90±0.2% Removal: 90.03%","sx":70,"sy":102},{"t":"Height: 23m","sx":70,"sy":124},{"t":"L/G: 1.89","sx":70,"sy":146}]
},
"encoding":{
"x":{"field":"sx","type":"quantitative","axis":null,"scale":{"domain":[0,1568],"nice":false,"zero":false}},
"y":{"field":"sy","type":"quantitative","axis":null,"scale":{"domain":[1147,0],"nice":false,"zero":false}}
},
"layer":[
{"data":{"values":[{"i":0,"sx":145,"sy":273},{"i":1,"sx":890,"sy":218},{"i":2,"sx":878,"sy":770},{"i":3,"sx":155,"sy":850}]},
 "mark":{"type":"line","fill":"#fafafa","stroke":"#f0f0f0","strokeWidth":2},"encoding":{"order":{"field":"i"}}},
{"data":{"values":[{"i":0,"sx":890,"sy":218},{"i":1,"sx":1212,"sy":380},{"i":2,"sx":1200,"sy":998},{"i":3,"sx":878,"sy":770}]},
 "mark":{"type":"line","fill":"#f1f1f1","stroke":"#e8e8e8","strokeWidth":2},"encoding":{"order":{"field":"i"}}},
{"data":{"values":[{"i":0,"sx":155,"sy":850},{"i":1,"sx":878,"sy":770},{"i":2,"sx":1200,"sy":998},{"i":3,"sx":397,"sy":1093}]},
 "mark":{"type":"line","fill":"#f4f4f4","stroke":"#ececec","strokeWidth":2},"encoding":{"order":{"field":"i"}}},
{"data":{"name":"grid"},"mark":{"type":"rule","color":"#bbbbbb","strokeWidth":4},
 "encoding":{"x2":{"field":"ex"},"y2":{"field":"ey"}}},
{"data":{"name":"surface"},"mark":{"type":"line","strokeWidth":2,"strokeJoin":"round"},
 "encoding":{
  "detail":{"field":"p"},"order":{"field":"i"},
  "fill":{"field":"z","type":"quantitative",
   "scale":{"domain":[81.22,82,83,84,85,86,86.8,87,88,89,90,90.9,91.2,92,93,94.24],"range":["#7e2f7f","#7f468f","#75599b","#6269a2","#4d7aa5","#3388a8","#1f93a8","#009bab","#00aaa5","#00b89b","#00c795","#00d27f","#45d87a","#88e065","#bee646","#fee832"]},
   "legend":null},
  "stroke":{"field":"z","type":"quantitative",
   "scale":{"domain":[81.22,82,83,84,85,86,86.8,87,88,89,90,90.9,91.2,92,93,94.24],"range":["#7e2f7f","#7f468f","#75599b","#6269a2","#4d7aa5","#3388a8","#1f93a8","#009bab","#00aaa5","#00b89b","#00c795","#00d27f","#45d87a","#88e065","#bee646","#fee832"]},
   "legend":null}}},
{"data":{"values":[{"z":81.22,"sx":0,"sy":0,"ex":0,"ey":0},{"z":94.24,"sx":0,"sy":0,"ex":0,"ey":0}]},"mark":{"type":"rect"},
 "encoding":{
  "x2":{"field":"ex"},"y2":{"field":"ey"},
  "fill":{"field":"z","type":"quantitative",
   "scale":{"domain":[81.22,82,83,84,85,86,86.8,87,88,89,90,90.9,91.2,92,93,94.24],"range":["#7e2f7f","#7f468f","#75599b","#6269a2","#4d7aa5","#3388a8","#1f93a8","#009bab","#00aaa5","#00b89b","#00c795","#00d27f","#45d87a","#88e065","#bee646","#fee832"]},
   "legend":{"type":"gradient","orient":"none","legendX":3223,"legendY":768,"title":null,"format":"d","gradientLength":1503,"gradientThickness":303,"values":[82,84,86,88,90,92,94],"labelFont":"DejaVu Sans","labelFontSize":39,"labelColor":"#222222","labelOffset":34,"gradientStrokeColor":"black","gradientStrokeWidth":3}}}},
{"data":{"name":"mesh"},"mark":{"type":"rule","color":"white","strokeWidth":2,"opacity":0.1},
 "encoding":{"x2":{"field":"ex"},"y2":{"field":"ey"}}},
{"data":{"name":"grid"},"mark":{"type":"rule","color":"#303030","strokeWidth":4,"opacity":0.07},
 "encoding":{"x2":{"field":"ex"},"y2":{"field":"ey"}}},
{"data":{"name":"axes"},"mark":{"type":"rule","color":"#1a1a1a","strokeWidth":4},
 "encoding":{"x2":{"field":"ex"},"y2":{"field":"ey"}}},
{"data":{"values":[{"sx":709,"sy":594}]},"mark":{"type":"circle","size":900,"color":"#6b8a66","opacity":1}},
{"data":{"values":[{"sx":305,"sy":474}]},"mark":{"type":"circle","size":900,"color":"#0000ee","opacity":1}},
{"data":{"name":"ticks"},"mark":{"type":"text","font":"DejaVu Sans","fontSize":41,"color":"#222222","align":"center","baseline":"middle"},
 "encoding":{"text":{"field":"t"}}},
{"data":{"values":[{"t":"Packed Section Height / m","sx":217,"sy":1012}]},"mark":{"type":"text","font":"DejaVu Sans","fontSize":60,"angle":45,"color":"#111111","align":"center","baseline":"middle"},"encoding":{"text":{"field":"t"}}},
{"data":{"values":[{"t":"mol K₂CO₃ / mol CO₂","sx":828,"sy":1108}]},"mark":{"type":"text","font":"DejaVu Sans","fontSize":60,"angle":353,"color":"#111111","align":"center","baseline":"middle"},"encoding":{"text":{"field":"t"}}},
{"data":{"values":[{"t":"CO₂ Removal (%)","sx":1281,"sy":703}]},"mark":{"type":"text","font":"DejaVu Sans","fontSize":61,"angle":272,"color":"#111111","align":"center","baseline":"middle"},"encoding":{"text":{"field":"t"}}},
{"data":{"values":[{"t":"CO₂ Removal (%)","sx":1553,"sy":646}]},"mark":{"type":"text","font":"DejaVu Sans","fontSize":42,"angle":270,"color":"#222222","align":"center","baseline":"middle"},"encoding":{"text":{"field":"t"}}},
{"data":{"values":[{"sx":13.5,"sy":16.5,"ex":450,"ey":162.5}]},"mark":{"type":"rect","fill":"white","stroke":"#d2d2d2","strokeWidth":4,"cornerRadius":8},
 "encoding":{"x2":{"field":"ex"},"y2":{"field":"ey"}}},
{"data":{"values":[{"sx":38,"sy":57.5}]},"mark":{"type":"circle","size":900,"color":"#ff0000","opacity":1}},
{"data":{"values":[{"sx":38,"sy":127.5}]},"mark":{"type":"circle","size":900,"color":"#0000ff","opacity":1}},
{"data":{"name":"legendLines"},"mark":{"type":"text","font":"DejaVu Sans","fontSize":43,"color":"#111111","align":"left","baseline":"middle"},
 "encoding":{"text":{"field":"t"}}}
]}
